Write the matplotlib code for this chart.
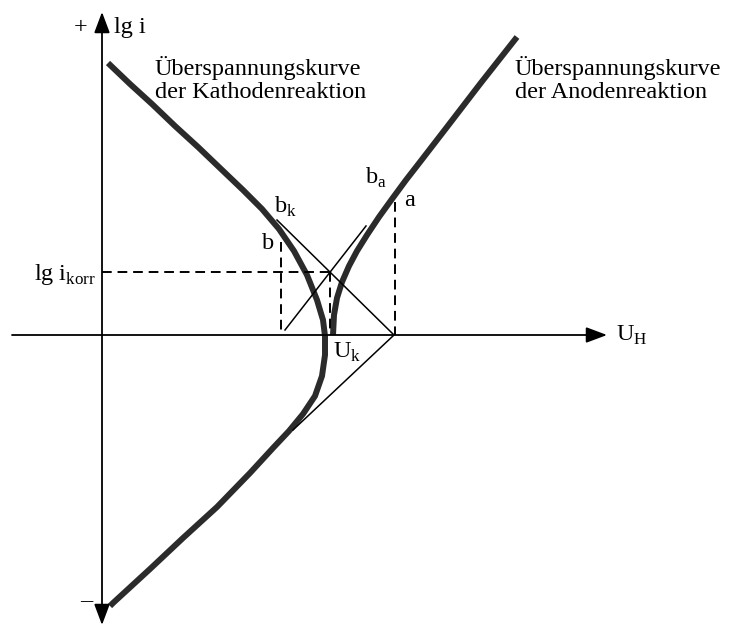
import matplotlib
matplotlib.use('Agg')
import matplotlib.pyplot as plt

# Evans-Diagramm, Koordinaten in Bildpunkten (y nach unten)
kath_x = [108, 130, 152, 175, 198, 221, 243, 262, 279, 294, 307, 317, 323, 325, 325,
          322, 315, 303, 289, 273, 250, 217, 183, 150, 113, 110]
kath_y = [63, 84, 104, 126, 147, 169, 190, 209, 229, 251, 275, 300, 320, 336, 355,
          376, 396, 414, 431, 448, 473, 507, 538, 569, 603, 606]

anod_x = [333, 334, 337, 342, 349, 357, 367, 379, 392, 406, 420, 447, 480, 517]
anod_y = [335, 315, 298, 282, 266, 251, 235, 217, 199, 180, 162, 127, 84, 37]

# Tafelgeraden
tafel_k_x = [277, 394, 293]
tafel_k_y = [220, 335, 430]
tafel_a_x = [285, 366]
tafel_a_y = [330, 226]

# gestrichelte Hilfslinien
i_korr_y = 272
u_korr_x = 330
b_x = 281
b_y = 242
a_x = 395
a_y = 202

achse_x = 102
achse_y = 335

plt.rcParams['font.family'] = ['Liberation Serif', 'DejaVu Serif']

fig = plt.figure(figsize=(7.32, 6.26), dpi=100)
ax = fig.add_axes([0, 0, 1, 1])
ax.set_xlim(0, 732)
ax.set_ylim(626, 0)
ax.axis('off')

# Achsen
ax.annotate('', xy=(achse_x, 12), xytext=(achse_x, 625),
            arrowprops=dict(arrowstyle='<|-|>,head_length=0.8,head_width=0.3',
                            lw=1.3, color='k', shrinkA=0, shrinkB=0,
                            mutation_scale=16))
ax.annotate('', xy=(607, achse_y), xytext=(12, achse_y),
            arrowprops=dict(arrowstyle='-|>,head_length=0.8,head_width=0.3',
                            lw=1.3, color='k', shrinkA=0, shrinkB=0,
                            mutation_scale=16))

# Kurven
ax.plot(kath_x, kath_y, color='#2b2b2b', lw=4.3, solid_capstyle='butt',
        solid_joinstyle='round')
ax.plot(anod_x, anod_y, color='#2b2b2b', lw=4.3, solid_capstyle='butt',
        solid_joinstyle='round')

ax.plot(tafel_k_x, tafel_k_y, color='k', lw=1.1)
ax.plot(tafel_a_x, tafel_a_y, color='k', lw=1.1)

dash = dict(color='k', lw=1.4, dashes=(5, 3))
ax.plot([achse_x, u_korr_x], [i_korr_y, i_korr_y], **dash)
ax.plot([u_korr_x, u_korr_x], [i_korr_y, achse_y], **dash)
ax.plot([b_x, b_x], [b_y, achse_y], **dash)
ax.plot([a_x, a_x], [a_y, achse_y], **dash)

# Beschriftung
fs = 17.5
ax.text(81, 28, '+', fontsize=fs, ha='center', va='center')
ax.text(86, 602, '–', fontsize=fs, ha='center', va='center')
ax.text(114, 33, 'lg i', fontsize=fs, va='baseline')
ax.text(616, 341, r'U$_{\mathregular{H}}$', fontsize=fs, va='baseline')
ax.text(34, 280, r'lg i$_{\mathregular{korr}}$', fontsize=fs, va='baseline')
ax.text(155, 75, 'Überspannungskurve', fontsize=fs, va='baseline')
ax.text(155, 98, 'der Kathodenreaktion', fontsize=fs, va='baseline')
ax.text(515, 75, 'Überspannungskurve', fontsize=fs, va='baseline')
ax.text(515, 98, 'der Anodenreaktion', fontsize=fs, va='baseline')
ax.text(274, 213, r'b$_{\mathregular{k}}$', fontsize=fs, va='baseline')
ax.text(262, 249, 'b', fontsize=fs, va='baseline')
ax.text(365, 184, r'b$_{\mathregular{a}}$', fontsize=fs, va='baseline')
ax.text(404, 206, 'a', fontsize=fs, va='baseline')
ax.text(333, 358, r'U$_{\mathregular{k}}$', fontsize=fs, va='baseline')

fig.savefig('out.png', dpi=100, facecolor='white')
